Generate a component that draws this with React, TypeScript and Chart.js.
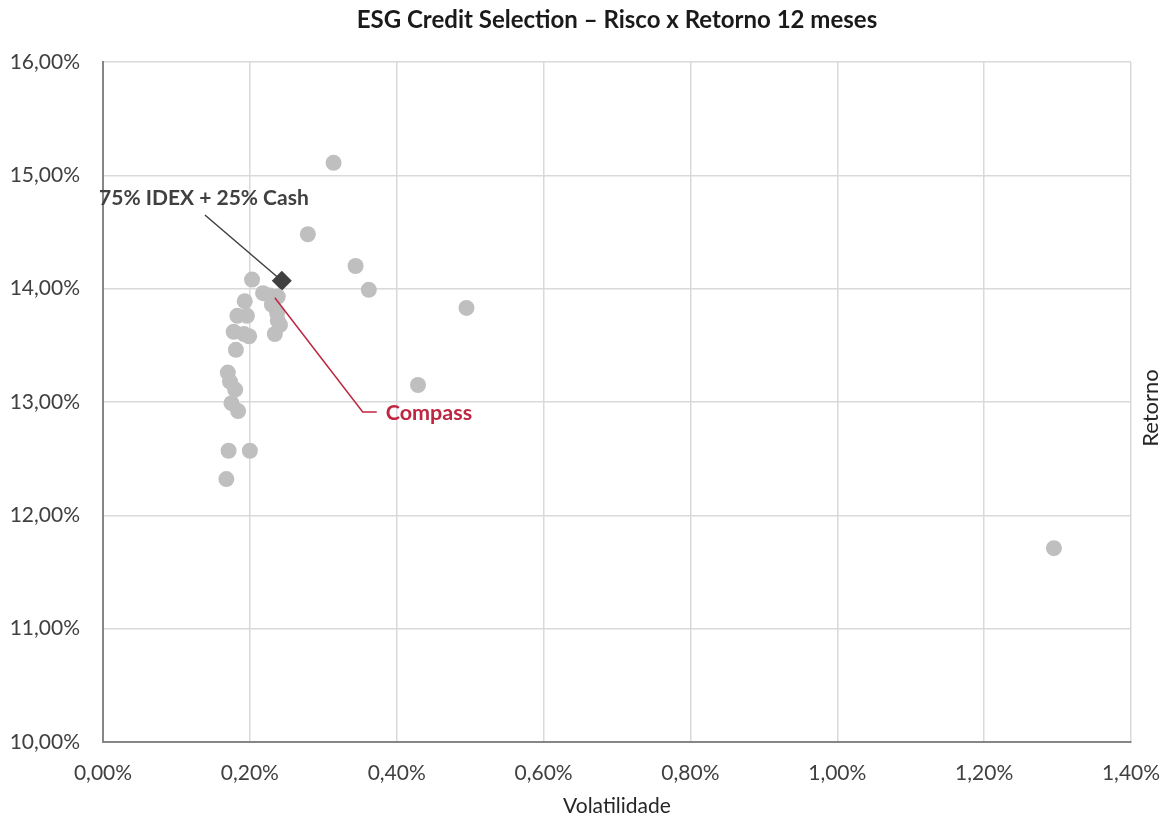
import React, { useEffect, useRef } from "react";
import { Chart, registerables } from "chart.js";

Chart.register(...registerables);

// Funds: volatility (%) and 12-month return (%)
const fundVolatility = [
  0.314, 0.279, 0.344, 0.362, 0.495, 0.429, 1.295, 0.203, 0.193, 0.196,
  0.183, 0.178, 0.192, 0.199, 0.181, 0.170, 0.173, 0.180, 0.175, 0.184,
  0.171, 0.200, 0.168, 0.218, 0.227, 0.238, 0.230, 0.237, 0.238, 0.241,
  0.234,
];
const fundReturn = [
  15.11, 14.48, 14.2, 13.99, 13.83, 13.15, 11.71, 14.08, 13.89, 13.76,
  13.76, 13.62, 13.6, 13.58, 13.46, 13.26, 13.18, 13.11, 12.99, 12.92,
  12.57, 12.57, 12.32, 13.96, 13.94, 13.93, 13.86, 13.79, 13.72, 13.68,
  13.6,
];
const compassVolatility = [0.234];
const compassReturn = [13.92];
const benchmarkVolatility = [0.2435];
const benchmarkReturn = [14.07];

const benchmarkLabel = "75% IDEX + 25% Cash";
const compassLabel = "Compass";
const chartTitle = "ESG Credit Selection – Risco x Retorno 12 meses";
const xTitle = "Volatilidade";
const yTitle = "Retorno";

// annotation anchors (data coordinates)
const benchmarkLabelAt = { x: 0.1374, y: 14.8 };
const benchmarkLeaderStart = { x: 0.1388, y: 14.65 };
const compassBend = { x: 0.3537, y: 12.912 };
const compassLeaderEnd = { x: 0.3728, y: 12.912 };
const compassLabelAt = { x: 0.385, y: 12.9 };

const FONT = "Lato";
const pct = (v: number) => Number(v).toFixed(2).replace(".", ",") + "%";

const toPts = (xs: number[], ys: number[]) => xs.map((x, i) => ({ x, y: ys[i] }));

const annotations = {
  id: "annotations",
  beforeDatasetsDraw(chart: any) {
    const { ctx, scales } = chart;
    const xs = scales.x, ys = scales.y;
    const bx = xs.getPixelForValue(benchmarkVolatility[0]);
    const by = ys.getPixelForValue(benchmarkReturn[0]);
    ctx.save();
    ctx.strokeStyle = "#404040";
    ctx.lineWidth = 1.5;
    ctx.beginPath();
    ctx.moveTo(xs.getPixelForValue(benchmarkLeaderStart.x), ys.getPixelForValue(benchmarkLeaderStart.y));
    ctx.lineTo(bx, by);
    ctx.stroke();
    ctx.restore();
  },
  afterDatasetsDraw(chart: any) {
    const { ctx, scales, chartArea } = chart;
    const xs = scales.x, ys = scales.y;
    ctx.save();
    // benchmark label
    ctx.font = `bold 21px ${FONT}`;
    ctx.fillStyle = "#404040";
    ctx.textAlign = "center";
    ctx.textBaseline = "middle";
    ctx.fillText(benchmarkLabel, xs.getPixelForValue(benchmarkLabelAt.x), ys.getPixelForValue(benchmarkLabelAt.y));
    // compass leader
    ctx.strokeStyle = "#BE2641";
    ctx.lineWidth = 1.5;
    ctx.beginPath();
    ctx.moveTo(xs.getPixelForValue(compassVolatility[0]), ys.getPixelForValue(compassReturn[0]));
    ctx.lineTo(xs.getPixelForValue(compassBend.x), ys.getPixelForValue(compassBend.y));
    ctx.lineTo(xs.getPixelForValue(compassLeaderEnd.x), ys.getPixelForValue(compassLeaderEnd.y));
    ctx.stroke();
    ctx.fillStyle = "#BE2641";
    ctx.textAlign = "left";
    ctx.font = `bold 21.5px ${FONT}`;
    ctx.fillText(compassLabel, xs.getPixelForValue(compassLabelAt.x), ys.getPixelForValue(compassLabelAt.y));
    // right-side axis title
    ctx.font = `22px ${FONT}`;
    ctx.fillStyle = "#262626";
    ctx.textAlign = "center";
    ctx.textBaseline = "alphabetic";
    ctx.translate(chartArea.right + 27, (chartArea.top + chartArea.bottom) / 2 + 6);
    ctx.rotate(-Math.PI / 2);
    ctx.fillText(yTitle, 0, 0);
    ctx.restore();
  },
};

export default function App() {
  const ref = useRef<HTMLCanvasElement | null>(null);
  useEffect(() => {
    document.documentElement.style.overflow = "hidden";
    if (!ref.current) return;
    const chart = new Chart(ref.current, {
      type: "scatter",
      data: {
        datasets: [
          {
            label: "Fundos",
            data: toPts(fundVolatility, fundReturn),
            backgroundColor: "#BFBFBF",
            borderColor: "#BFBFBF",
            pointRadius: 8,
            pointHoverRadius: 8,
            borderWidth: 0,
          },
          {
            label: compassLabel,
            data: toPts(compassVolatility, compassReturn),
            backgroundColor: "#BFBFBF",
            borderColor: "#BFBFBF",
            pointRadius: 8,
            borderWidth: 0,
          },
          {
            label: benchmarkLabel,
            data: toPts(benchmarkVolatility, benchmarkReturn),
            backgroundColor: "#404040",
            borderColor: "#404040",
            pointStyle: "rectRot",
            pointRadius: 10,
            borderWidth: 0,
          },
        ],
      },
      options: {
        animation: false,
        responsive: true,
        maintainAspectRatio: false,
        layout: { padding: { left: 0, right: 29, top: 0, bottom: 0 } },
        plugins: {
          legend: { display: false },
          tooltip: { enabled: false },
          title: {
            display: true,
            fullSize: false,
            text: chartTitle,
            color: "#1a1a1a",
            font: { family: FONT, size: 24, weight: "bold", lineHeight: 1.0 },
            padding: { top: 0, bottom: 30 },
          },
        },
        scales: {
          x: {
            type: "linear",
            min: 0,
            max: 1.4,
            ticks: {
              stepSize: 0.2,
              callback: (v: any) => pct(v),
              color: "#404040",
              font: { family: FONT, size: 21 },
              padding: 19,
              maxRotation: 0,
            },
            grid: { color: "#D9D9D9", lineWidth: 1.5, drawTicks: false },
            border: { color: "#868686", width: 2 },
            title: {
              display: true,
              text: xTitle,
              color: "#262626",
              font: { family: FONT, size: 21, lineHeight: 1.14 },
              padding: 0,
            },
            afterFit: (s: any) => {
              s.height = 76;
              s.paddingLeft = 0;
              s.paddingRight = 0;
            },
          },
          y: {
            type: "linear",
            min: 10,
            max: 16,
            ticks: {
              stepSize: 1,
              callback: (v: any) => pct(v),
              color: "#404040",
              font: { family: FONT, size: 21 },
              padding: 23,
            },
            grid: { color: "#D9D9D9", lineWidth: 1.5, drawTicks: false },
            border: { color: "#868686", width: 2 },
            afterFit: (s: any) => { s.width = 95; },
          },
        },
      },
      plugins: [annotations],
    });
    return () => chart.destroy();
  }, []);
  return (
    <div style={{ position: "relative", width: "100%", height: "810px" }}>
      <canvas ref={ref} />
    </div>
  );
}
